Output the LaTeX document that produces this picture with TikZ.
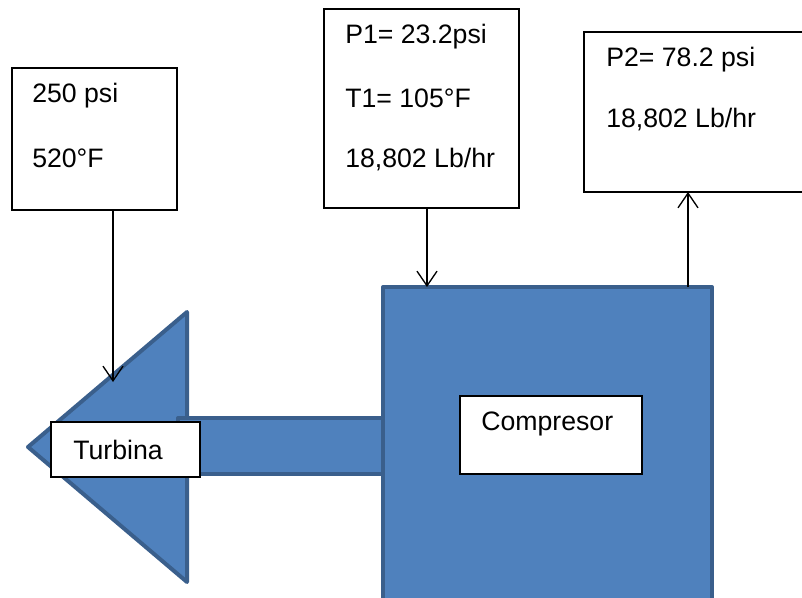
\documentclass[tikz,border=0pt]{standalone}
\usepackage{fontspec}
\setmainfont{Liberation Sans}
\usetikzlibrary{arrows.meta}
\definecolor{blfill}{HTML}{4F81BD}
\definecolor{blline}{HTML}{3A5F8C}
\begin{document}
\begin{tikzpicture}[x=0.75pt,y=-0.75pt,
  shape3d/.style={fill=blfill,draw=blline,line width=3pt,line join=round},
  infobox/.style={draw=black,line width=1pt,fill=white},
  lbl/.style={anchor=west,inner sep=0pt,font=\fontsize{20}{24}\selectfont},
  flow/.style={draw=black,line width=1pt,-{Straight Barb[length=11pt,width=15pt,line width=1pt]}}]
\useasboundingbox (0,0) rectangle (802,598);
\begin{scope}
\clip (0,0) rectangle (802,598);
% turbine head
\draw[shape3d] (28,447) -- (187,312) -- (187,582) -- cycle;
% shaft
\draw[shape3d] (178,418) rectangle (383,474);
% compressor
\draw[shape3d] (383,287) rectangle (712,600);
\coordinate (comptop) at (427,287);
\coordinate (compout) at (688,287);
\coordinate (turbin) at (113,382);
% info boxes
\draw[infobox] (12,68) rectangle (177,210);
\coordinate (b1s) at (113,210);
\draw[infobox] (324,9) rectangle (519,208);
\coordinate (b2s) at (427,208);
\draw[infobox] (584,32) rectangle (812,192);
\coordinate (b3s) at (688,192);
\node[lbl] (t1) at (32,96) {250 psi};
\node[lbl] (t2) at (32,158) {520°F};
\node[lbl] (t3) at (345,37) {P1= 23.2psi};
\node[lbl] (t4) at (345,98) {T1= 105°F};
\node[lbl] (t5) at (345,160) {18,802 Lb/hr};
\node[lbl] (t6) at (606,60) {P2= 78.2 psi};
\node[lbl] (t7) at (606,120) {18,802 Lb/hr};
% labels on shapes
\draw[infobox] (51,422) rectangle (200,477);
\node[lbl] (turb) at (73,450) {Turbina};
\draw[infobox] (460,396) rectangle (642,474);
\node[lbl] (comp) at (481,424) {Compresor};
% connectors
\draw[flow] (b1s) -- (turbin);
\draw[flow] (b2s) -- (comptop);
\draw[flow] (compout) -- (b3s);
\end{scope}
\end{tikzpicture}
\end{document}
